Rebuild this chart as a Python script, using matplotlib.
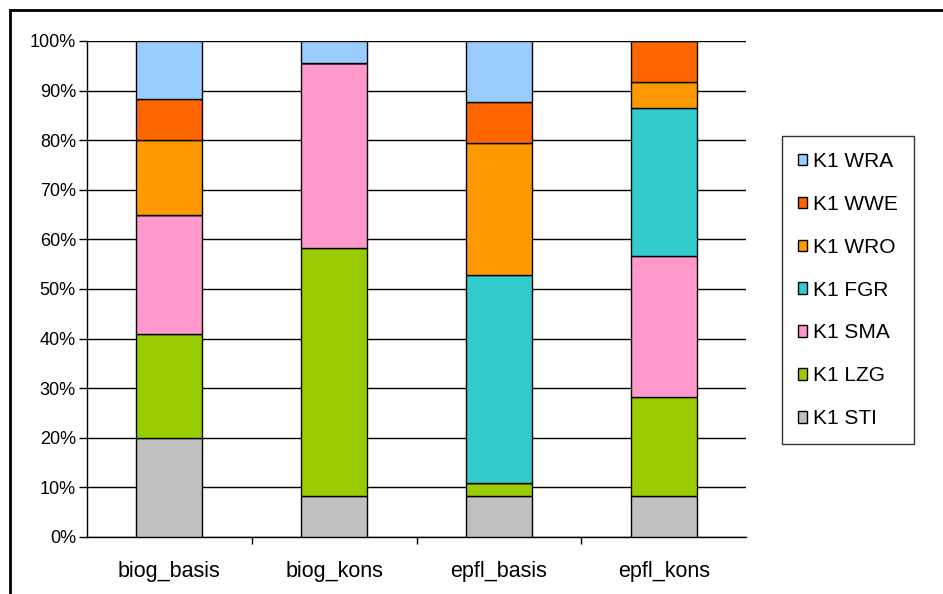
import numpy as np
import matplotlib.pyplot as plt
from matplotlib.patches import Rectangle

# Share of each K1 class per data set (percent)
groups = ['biog_basis', 'biog_kons', 'epfl_basis', 'epfl_kons']
series = ['K1 STI', 'K1 LZG', 'K1 SMA', 'K1 FGR', 'K1 WRO', 'K1 WWE', 'K1 WRA']
sti = [20.0, 8.3, 8.3, 8.3]
lzg = [21.0, 50.0, 2.5, 20.0]
sma = [24.0, 37.3, 0.0, 28.4]
fgr = [0.0, 0.0, 42.0, 29.7]
wro = [15.0, 0.0, 26.6, 5.3]
wwe = [8.3, 0.0, 8.3, 8.3]
wra = [11.7, 4.4, 12.3, 0.0]
colors = ['#C0C0C0', '#99CC00', '#FF99CC', '#33CCCC', '#FF9900', '#FF6600', '#99CCFF']

values = np.array([sti, lzg, sma, fgr, wro, wwe, wra])

plt.rcParams['font.family'] = ['Liberation Sans', 'DejaVu Sans']

fig = plt.figure(figsize=(9.43, 5.94), dpi=100)
ax = fig.add_axes([0.0923, 0.096, 0.699, 0.835])

x = np.arange(len(groups))
bottom = np.zeros(len(groups))
handles = []
for name, vals, col in zip(series, values, colors):
    b = ax.bar(x, vals, width=0.4, bottom=bottom, color=col,
               edgecolor='black', linewidth=1.0, label=name, zorder=3)
    handles.append(b)
    bottom += vals

ax.set_xlim(-0.5, 3.5)
ax.set_ylim(0, 100)
ax.set_yticks(np.arange(0, 101, 10))
ax.set_yticklabels([f'{v}%' for v in range(0, 101, 10)], fontsize=13)
ax.yaxis.grid(True, color='black', linewidth=1.0, zorder=0)
ax.set_axisbelow(True)

# category labels centred under bars, ticks between categories
ax.set_xticks(x)
ax.set_xticklabels(groups, fontsize=15.5)
ax.tick_params(axis='x', length=0, pad=17)
ax.set_xticks([0.5, 1.5, 2.5], minor=True)
ax.tick_params(axis='x', which='minor', length=5, width=1, direction='out')
ax.tick_params(axis='y', length=6, width=1, direction='out', pad=2)

for s in ['top', 'right']:
    ax.spines[s].set_visible(False)
for s in ['left', 'bottom']:
    ax.spines[s].set_linewidth(1.0)

leg = fig.legend(handles[::-1], series[::-1], loc='upper left',
                 bbox_to_anchor=(782 / 943, 1 - 136 / 594), fontsize=15,
                 frameon=True, fancybox=False, edgecolor='black',
                 handlelength=0.45, handleheight=0.45, handletextpad=0.3,
                 labelspacing=1.15, borderpad=0.75, borderaxespad=0)
leg.get_frame().set_linewidth(1.0)

# outer chart border (top and left edges visible)
fig.patches.append(Rectangle((10 / 943, -0.05), 1.2, 1 - 10 / 594 + 0.05,
                             transform=fig.transFigure, fill=False,
                             edgecolor='black', linewidth=2))

fig.savefig('out.png', dpi=100)
